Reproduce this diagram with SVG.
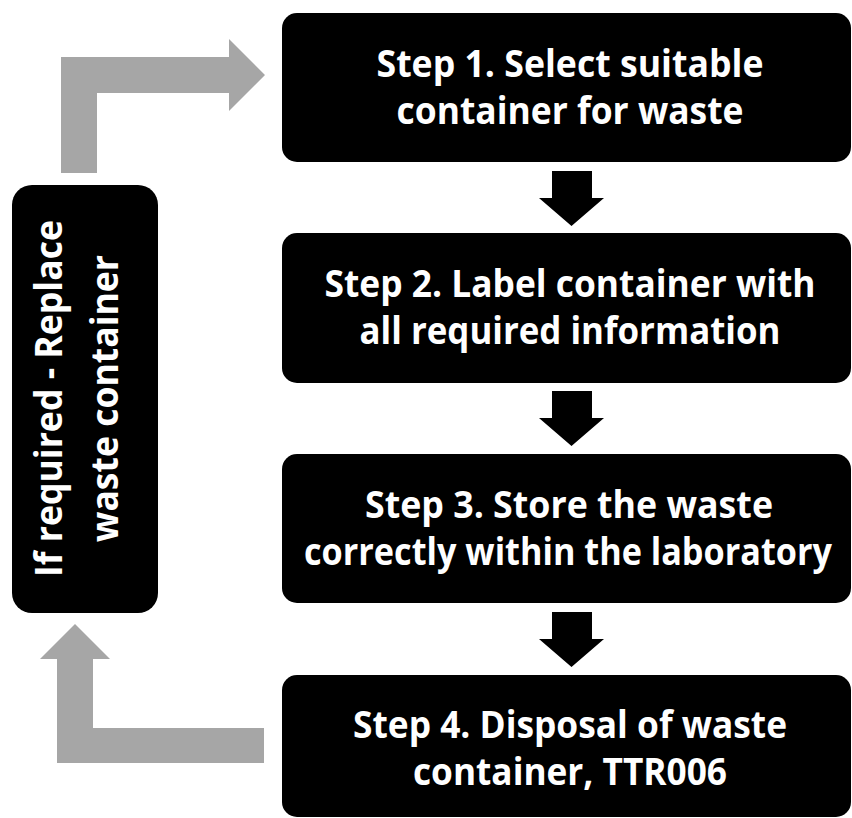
<svg xmlns="http://www.w3.org/2000/svg" width="852" height="818" viewBox="0 0 852 818">
<style>
.box{fill:#000}
.t{font-family:"Open Sans","Liberation Sans",sans-serif;font-weight:bold;font-size:37px;fill:#fff;text-anchor:middle}
.g{fill:#A6A6A6}
.k{fill:#000}
</style>
<rect width="852" height="818" fill="#fff"/>
<g id="connectors">
<polygon class="g" points="61,173 61,57 229,57 229,39 265,75 229,111 229,93 97,93 97,173"/>
<polygon class="g" points="75,624 110,659 93,659 93,728 264,728 264,763 57,763 57,659 40,659"/>
<polygon class="k" points="552,171 592,171 592,198 604,198 571.5,226 539,198 552,198"/>
<polygon class="k" points="552,391 592,391 592,418 604,418 571.5,446 539,418 552,418"/>
<polygon class="k" points="552,612 592,612 592,639 604,639 571.5,667 539,639 552,639"/>
</g>
<g id="step1">
<rect class="box" x="282" y="13" width="569" height="149" rx="15"/>
<text class="t" x="570" y="77" textLength="387" lengthAdjust="spacingAndGlyphs">Step 1. Select suitable</text>
<text class="t" x="570" y="124" textLength="347" lengthAdjust="spacingAndGlyphs">container for waste</text>
</g>
<g id="step2">
<rect class="box" x="282" y="233" width="569" height="150" rx="15"/>
<text class="t" x="570" y="297" textLength="491" lengthAdjust="spacingAndGlyphs">Step 2. Label container with</text>
<text class="t" x="570" y="344" textLength="421" lengthAdjust="spacingAndGlyphs">all required information</text>
</g>
<g id="step3">
<rect class="box" x="282" y="454" width="569" height="149" rx="15"/>
<text class="t" x="569" y="518" textLength="408" lengthAdjust="spacingAndGlyphs">Step 3. Store the waste</text>
<text class="t" x="568" y="565" textLength="528" lengthAdjust="spacingAndGlyphs">correctly within the laboratory</text>
</g>
<g id="step4">
<rect class="box" x="282" y="675" width="569" height="142" rx="15"/>
<text class="t" x="570" y="738" textLength="434" lengthAdjust="spacingAndGlyphs">Step 4. Disposal of waste</text>
<text class="t" x="570" y="785" textLength="314" lengthAdjust="spacingAndGlyphs">container, TTR006</text>
</g>
<g id="replace">
<rect class="box" x="12" y="185" width="146" height="428" rx="20"/>
<text class="t" transform="translate(62,398.5) rotate(-90)" x="0" y="0" textLength="357" lengthAdjust="spacingAndGlyphs">If required - Replace</text>
<text class="t" transform="translate(118,398.5) rotate(-90)" x="0" y="0" textLength="287" lengthAdjust="spacingAndGlyphs">waste container</text>
</g>
</svg>
